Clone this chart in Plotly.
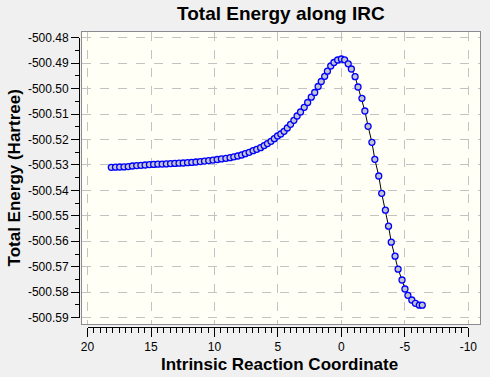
import plotly.graph_objects as go

irc = [18.128, 17.797, 17.465, 17.126, 16.795, 16.464, 16.125, 15.794, 15.462, 15.123,
       14.792, 14.461, 14.122, 13.790, 13.459, 13.120, 12.789, 12.458, 12.119, 11.787,
       11.456, 11.117, 10.786, 10.455, 10.116, 9.784, 9.453, 9.100, 8.770, 8.475,
       8.166, 7.858, 7.573, 7.265, 6.957, 6.672, 6.364, 6.086, 5.824, 5.547,
       5.285, 5.031, 4.777, 4.515, 4.260, 4.006, 3.744, 3.490, 3.220, 2.928,
       2.658, 2.373, 2.103, 1.834, 1.587, 1.317, 1.102, 0.840, 0.586, 0.293,
       0.000, -0.254, -0.539, -0.786, -1.079, -1.310, -1.618, -1.849, -2.103, -2.404,
       -2.635, -2.943, -3.174, -3.467, -3.713, -3.929, -4.230, -4.468, -4.777, -5.008,
       -5.239, -5.547, -5.832, -6.140, -6.371]
energy = [-500.53092, -500.53088, -500.53081, -500.53077, -500.53065, -500.53041, -500.53026, -500.53014, -500.53002, -500.52986,
          -500.52978, -500.52971, -500.52967, -500.52959, -500.52947, -500.52939, -500.52931, -500.52923, -500.52912, -500.52900,
          -500.52884, -500.52868, -500.52849, -500.52829, -500.52809, -500.52786, -500.52762, -500.52739, -500.52715, -500.52680,
          -500.52648, -500.52609, -500.52558, -500.52503, -500.52440, -500.52385, -500.52322, -500.52240, -500.52160, -500.52071,
          -500.51969, -500.51863, -500.51784, -500.51678, -500.51548, -500.51403, -500.51246, -500.51077, -500.50919, -500.50735,
          -500.50546, -500.50338, -500.50153, -500.49917, -500.49721, -500.49517, -500.49316, -500.49112, -500.48974, -500.48876,
          -500.48837, -500.48868, -500.49026, -500.49230, -500.49532, -500.49937, -500.50381, -500.50880, -500.51481, -500.52110,
          -500.52778, -500.53434, -500.54114, -500.54778, -500.55407, -500.56035, -500.56586, -500.57096, -500.57521, -500.57874,
          -500.58122, -500.58307, -500.58436, -500.58511, -500.58511]

x_ticks = [20, 15, 10, 5, 0, -5, -10]
y_ticks = [-500.48, -500.49, -500.50, -500.51, -500.52, -500.53, -500.54,
           -500.55, -500.56, -500.57, -500.58, -500.59]
y_labels = ["%.2f" % v for v in y_ticks]

title = "Total Energy along IRC"
x_title = "Intrinsic Reaction Coordinate"
y_title = "Total Energy (Hartree)"

W, H = 490, 377
ML, MR, MT, MB = 80, 1, 32, 50
PW = W - ML - MR
PH = H - MT - MB

XR = [20.44, -10.92]
YR = [-500.5925, -500.47776]
dom_x = [2 / PW, 1.0]
dom_y = [3 / PH, 1.0]


def fx(v):
    return dom_x[0] + (XR[0] - v) / (XR[0] - XR[1]) * (dom_x[1] - dom_x[0])


def fy(v):
    return dom_y[0] + (v - YR[0]) / (YR[1] - YR[0]) * (dom_y[1] - dom_y[0])


font = "Liberation Sans, Arial, sans-serif"

fig = go.Figure()
fig.add_trace(go.Scatter(
    x=irc, y=energy, mode="lines+markers",
    line=dict(color="black", width=1),
    marker=dict(symbol="circle", size=6, color="#C4C4CC",
                line=dict(color="#0000FF", width=1.3)),
    showlegend=False, hoverinfo="x+y"))
fig.add_trace(go.Scatter(x=[], y=[], xaxis="x2", yaxis="y2", showlegend=False))
fig.add_trace(go.Scatter(x=[], y=[], xaxis="x3", yaxis="y3", showlegend=False))

fig.update_layout(
    width=W, height=H,
    margin=dict(l=ML, r=MR, t=MT, b=MB, pad=0),
    paper_bgcolor="#F0F0F0",
    plot_bgcolor="#FFFFF6",
    font=dict(family=font, size=12, color="black"),
    xaxis=dict(domain=dom_x, range=XR, tickvals=x_ticks, showticklabels=False,
               ticks="", showgrid=True, gridcolor="#C3C3C3", griddash="dash",
               gridwidth=1, zeroline=False, showline=True, linecolor="#8A8A90",
               linewidth=1.2, mirror=True, anchor="y"),
    yaxis=dict(domain=dom_y, range=YR, tickvals=y_ticks, showticklabels=False,
               ticks="", showgrid=True, gridcolor="#C3C3C3", griddash="dash",
               gridwidth=1, zeroline=False, showline=True, linecolor="#8A8A90",
               linewidth=1.2, mirror=True, anchor="x"),
    xaxis2=dict(domain=[fx(20), fx(-10)], range=[20, -10], anchor="y2",
                tickvals=x_ticks, ticktext=[str(v) for v in x_ticks],
                ticks="outside", ticklen=9, tickwidth=1, tickcolor="black",
                showline=True, linecolor="black", linewidth=1,
                showgrid=False, zeroline=False,
                tickfont=dict(family=font, size=12, color="black"),
                minor=dict(dtick=0.5, tick0=0, ticks="outside", ticklen=5,
                           tickcolor="black", tickwidth=1, showgrid=False)),
    yaxis2=dict(domain=[0, 0.0005], visible=False, anchor="x2"),
    yaxis3=dict(domain=[fy(-500.59), fy(-500.48)], range=[-500.59, -500.48],
                anchor="x3", tickvals=y_ticks, ticktext=y_labels,
                ticks="outside", ticklen=8, tickwidth=1, tickcolor="black",
                showline=True, linecolor="black", linewidth=1,
                showgrid=False, zeroline=False,
                tickfont=dict(family=font, size=12, color="black"),
                minor=dict(dtick=0.005, ticks="outside", ticklen=4,
                           tickcolor="black", tickwidth=1, showgrid=False)),
    xaxis3=dict(domain=[0, 0.0005], visible=False, anchor="y3"),
    annotations=[
        dict(text="<b>" + title + "</b>", xref="paper", yref="paper",
             x=(285.5 - ML) / PW, y=(H - MB - 13.5) / PH, xanchor="center",
             yanchor="middle", showarrow=False,
             font=dict(family=font, size=19, color="black")),
        dict(text="<b>" + x_title + "</b>", xref="paper", yref="paper",
             x=(284 - ML) / PW, y=(H - MB - 364) / PH, xanchor="center",
             yanchor="middle", showarrow=False,
             font=dict(family=font, size=17, color="black")),
        dict(text="<b>" + y_title + "</b>", xref="paper", yref="paper",
             x=(13.5 - ML) / PW, y=(H - MB - 177.5) / PH, xanchor="center",
             yanchor="middle", showarrow=False, textangle=-90,
             font=dict(family=font, size=17, color="black")),
    ],
)

fig.write_html(
    "out.html",
    config={"displayModeBar": False},
    post_script="document.body.style.margin='0';document.body.style.overflow='hidden';",
)
